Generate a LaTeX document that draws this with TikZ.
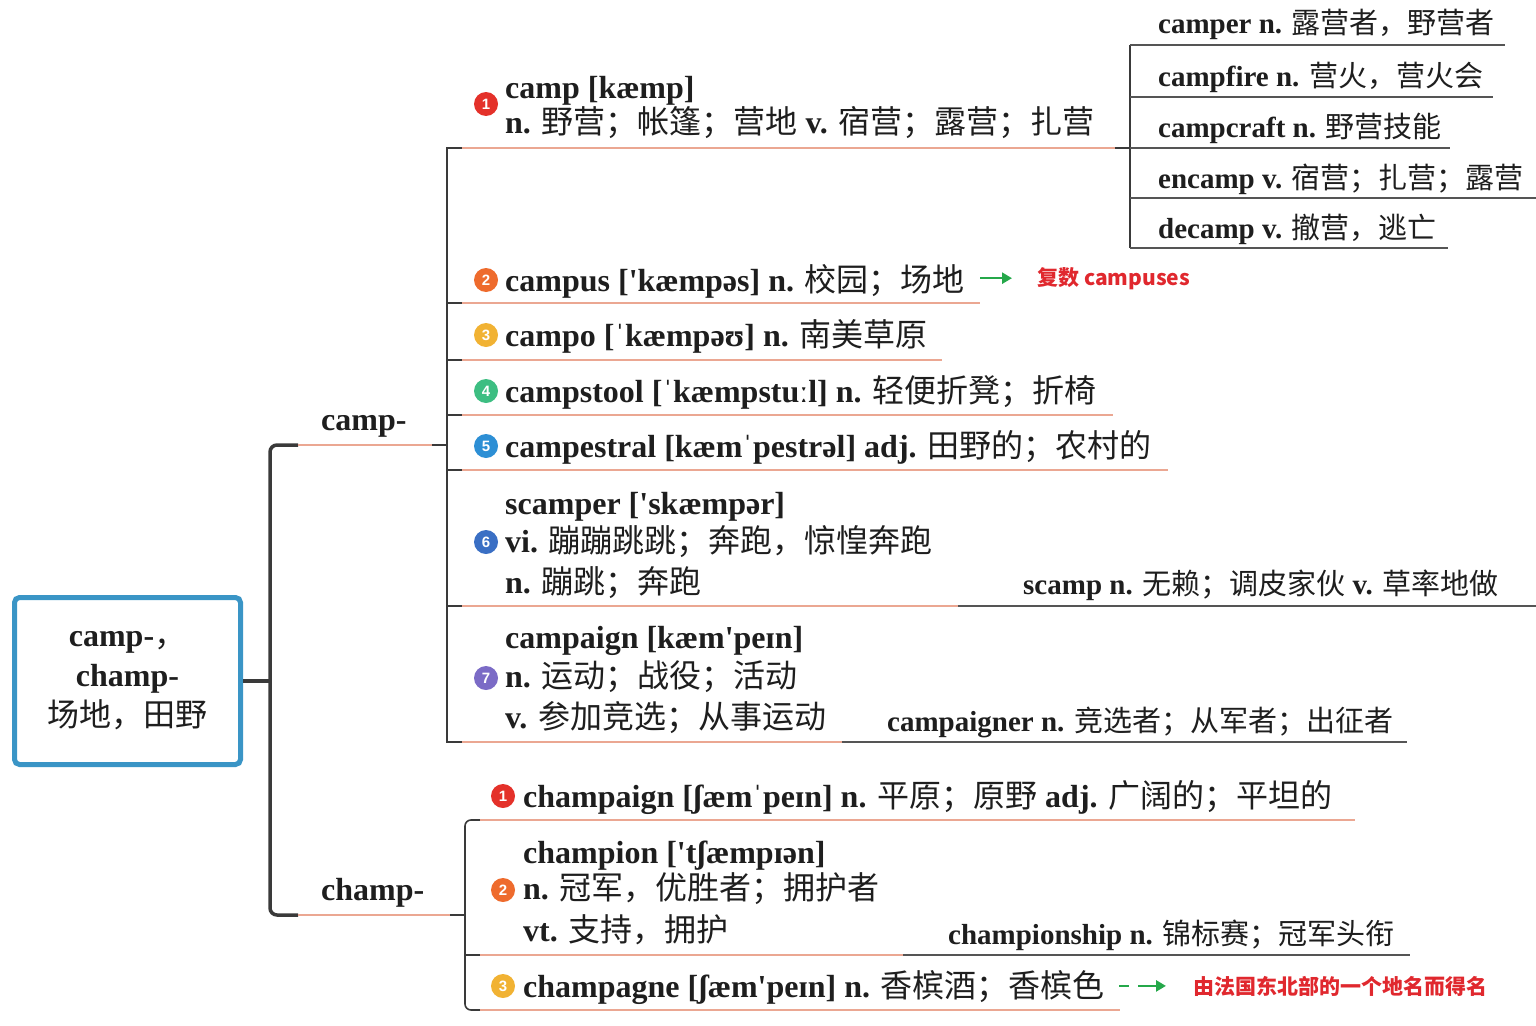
\documentclass[tikz,border=0pt]{standalone}
\usepackage{fontspec}
\setmainfont{Liberation Serif}
\newfontfamily\cjkfam{Noto Sans CJK SC}
\newfontfamily\markfam{Liberation Sans}
\newcommand\zh[1]{{\cjkfam\mdseries #1}}
\usetikzlibrary{arrows.meta}
\definecolor{salmon}{HTML}{EBA792}
\definecolor{linec}{HTML}{3A3A3A}
\definecolor{subline}{HTML}{555555}
\definecolor{txt}{HTML}{1E1E1E}
\definecolor{rootblue}{HTML}{3A95C6}
\definecolor{notered}{HTML}{E0282E}
\definecolor{arrowgreen}{HTML}{25A84A}
\definecolor{mA}{HTML}{E4312A}
\definecolor{mB}{HTML}{EE6B2D}
\definecolor{mC}{HTML}{F1B233}
\definecolor{mD}{HTML}{3DBE82}
\definecolor{mE}{HTML}{2D8FD5}
\definecolor{mF}{HTML}{3A6FC4}
\definecolor{mG}{HTML}{7B6BC6}
\begin{document}
\begin{tikzpicture}[x=1pt,y=-1pt,
  mainent/.style={anchor=base west, inner sep=0pt, text=txt, font=\fontsize{32}{38}\selectfont\bfseries},
  subent/.style={anchor=base west, inner sep=0pt, text=txt, font=\fontsize{29}{34}\selectfont\bfseries},
  notetext/.style={anchor=base west, inner sep=0pt, text=notered, font=\fontsize{21}{25}\selectfont\cjkfam\bfseries},
  marker/.style={circle, inner sep=0pt, minimum size=24pt, text=white, font=\fontsize{15}{15}\selectfont\markfam\bfseries},
  uline/.style={salmon, line width=1.6pt},
  dline/.style={linec, line width=1.6pt},
  sline/.style={subline, line width=1.8pt},
  conn/.style={linec, line width=3.5pt, rounded corners=7pt},
  garrow/.style={arrowgreen, line width=2.6pt, -{Triangle[length=10pt,width=11pt]}},
]
\useasboundingbox (0,0) rectangle (1536,1025);

% root
\node[draw=rootblue, line width=5pt, rounded corners=5pt, minimum width=226pt, minimum height=167pt,
      align=center, text=txt, font=\fontsize{32}{40}\selectfont\bfseries] (root) at (127.5,681)
      {camp-\zh{，}\\champ-\\\zh{场地，田野}};

% level-1 labels
\node[mainent] (campL) at (321,430) {camp-};
\node[mainent] (champL) at (321,900) {champ-};

% root bracket
\coordinate (campU) at (298,445);
\coordinate (champU) at (298,915);
\draw[conn] (root.east) -- (270,681);
\draw[conn] (campU) -- (270,445) -- (270,915) -- (champU);

% camp- underline and bracket
\draw[uline] (campU) -- (432,445);
\draw[dline] (432,445) -- (447,445);
\draw[dline] (462,148) -- (447,148) -- (447,742) -- (462,742);
\foreach \yy in {303,360,415,470,606} \draw[dline] (447,\yy) -- (462,\yy);

% 1 camp
\node[marker, fill=mA] (mk1) at (486,104) {1};
\node[mainent] (campA) at (505,98) {camp [kæmp]};
\node[mainent] (campB) at (505,133) {n. \zh{野营；帐篷；营地} v. \zh{宿营；露营；扎营}};
\draw[uline] (462,148) -- (1115,148);
\draw[dline] (1115,148) -- (1130,148);
\draw[dline] (1130,45) -- (1130,248);
\node[subent] (camper) at (1158,34) {camper n. \zh{露营者，野营者}};
\node[subent] (campfire) at (1158,86) {campfire n. \zh{营火，营火会}};
\node[subent] (campcraft) at (1158,137) {campcraft n. \zh{野营技能}};
\node[subent] (encamp) at (1158,188) {encamp v. \zh{宿营；扎营；露营}};
\node[subent] (decamp) at (1158,238) {decamp v. \zh{撤营，逃亡}};
\draw[sline] (1130,45) -- (1505,45);
\draw[sline] (1130,97) -- (1493,97);
\draw[sline] (1130,148) -- (1450,148);
\draw[sline] (1130,198) -- (1536,198);
\draw[sline] (1130,248) -- (1448,248);

% 2 campus
\node[marker, fill=mB] (mk2) at (486,280) {2};
\node[mainent] (campus) at (505,291) {campus [\textquotesingle kæmpəs] n. \zh{校园；场地}};
\node[notetext] (campusnote) at (1037,285) {复数 campuses};
\draw[garrow] ([xshift=-57pt]campusnote.west) -- ([xshift=-25pt]campusnote.west);
\draw[uline] (462,303) -- (980,303);

% 3 campo
\node[marker, fill=mC] (mk3) at (486,335) {3};
\node[mainent] (campo) at (505,346) {campo [ˈkæmpəʊ] n. \zh{南美草原}};
\draw[uline] (462,360) -- (942,360);

% 4 campstool
\node[marker, fill=mD] (mk4) at (486,391) {4};
\node[mainent] (campstool) at (505,402) {campstool [ˈkæmpstuːl] n. \zh{轻便折凳；折椅}};
\draw[uline] (462,415) -- (1113,415);

% 5 campestral
\node[marker, fill=mE] (mk5) at (486,446) {5};
\node[mainent] (campestral) at (505,457) {campestral [kæmˈpestrəl] adj. \zh{田野的；农村的}};
\draw[uline] (462,470) -- (1168,470);

% 6 scamper
\node[marker, fill=mF] (mk6) at (486,542) {6};
\node[mainent] (scamA) at (505,514) {scamper [\textquotesingle skæmpər]};
\node[mainent] (scamB) at (505,552) {vi. \zh{蹦蹦跳跳；奔跑，惊惶奔跑}};
\node[mainent] (scamC) at (505,593) {n. \zh{蹦跳；奔跑}};
\node[subent] (scamp) at (1023,594) {scamp n. \zh{无赖；调皮家伙} v. \zh{草率地做}};
\draw[uline] (462,606) -- (958,606);
\draw[sline] (958,606) -- (1536,606);

% 7 campaign
\node[marker, fill=mG] (mk7) at (486,678) {7};
\node[mainent] (cgA) at (505,648) {campaign [kæm\textquotesingle peɪn]};
\node[mainent] (cgB) at (505,687) {n. \zh{运动；战役；活动}};
\node[mainent] (cgC) at (505,728) {v. \zh{参加竞选；从事运动}};
\node[subent] (campaigner) at (887,731) {campaigner n. \zh{竞选者；从军者；出征者}};
\draw[uline] (462,742) -- (842,742);
\draw[sline] (842,742) -- (1407,742);

% champ- underline and bracket
\draw[uline] (champU) -- (450,915);
\draw[dline] (450,915) -- (465,915);
\draw[dline, rounded corners=6pt] (480,820) -- (465,820) -- (465,1010) -- (480,1010);
\draw[dline] (465,955) -- (480,955);

% champ 1
\node[marker, fill=mA] (cmk1) at (503,796) {1};
\node[mainent] (champaign) at (523,807) {champaign [ʃæmˈpeɪn] n. \zh{平原；原野} adj. \zh{广阔的；平坦的}};
\draw[uline] (480,820) -- (1355,820);

% champ 2
\node[marker, fill=mB] (cmk2) at (503,890) {2};
\node[mainent] (chA) at (523,863) {champion [\textquotesingle tʃæmpɪən]};
\node[mainent] (chB) at (523,899) {n. \zh{冠军，优胜者；拥护者}};
\node[mainent] (chC) at (523,941) {vt. \zh{支持，拥护}};
\node[subent] (championship) at (948,944) {championship n. \zh{锦标赛；冠军头衔}};
\draw[uline] (480,955) -- (903,955);
\draw[sline] (903,955) -- (1410,955);

% champ 3
\node[marker, fill=mC] (cmk3) at (503,986) {3};
\node[mainent] (champagne) at (523,997) {champagne [ʃæm\textquotesingle peɪn] n. \zh{香槟酒；香槟色}};
\node[notetext] (chnote) at (1193,994) {由法国东北部的一个地名而得名};
\draw[garrow, dash pattern=on 10pt off 9pt on 40pt] ([xshift=-74pt]chnote.west) -- ([xshift=-27pt]chnote.west);
\draw[uline] (480,1010) -- (1120,1010);
\end{tikzpicture}
\end{document}
